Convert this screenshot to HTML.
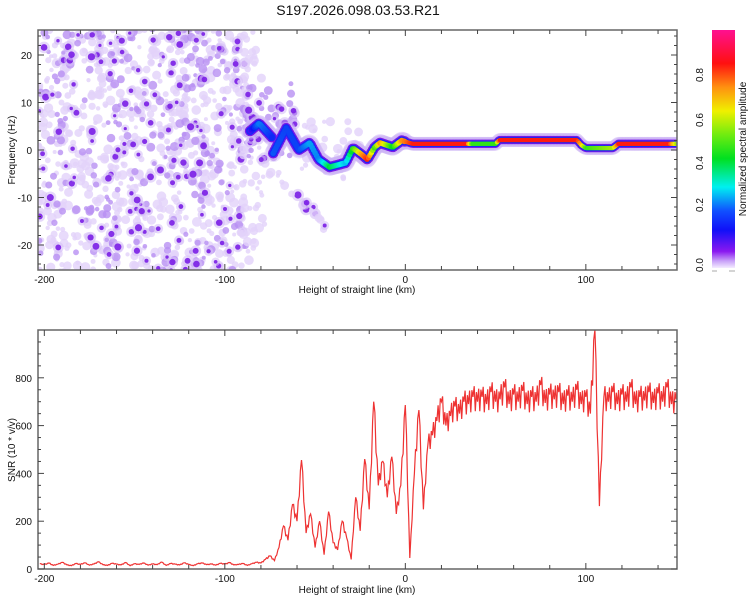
<!DOCTYPE html>
<html><head><meta charset="utf-8">
<style>
body{margin:0;background:#fff;width:750px;height:600px;overflow:hidden;font-family:"Liberation Sans",sans-serif}
svg text{font-family:"Liberation Sans",sans-serif;fill:#111}
</style></head><body>
<svg id="fig" width="750" height="600" viewBox="0 0 750 600">
<defs>
<linearGradient id="cbg" x1="0" y1="1" x2="0" y2="0">
<stop offset="0" stop-color="#f4ecff"/><stop offset="0.03" stop-color="#c8a0f8"/>
<stop offset="0.07" stop-color="#8a18f0"/><stop offset="0.16" stop-color="#1010f8"/>
<stop offset="0.24" stop-color="#1050ff"/><stop offset="0.34" stop-color="#00f0f0"/>
<stop offset="0.46" stop-color="#00e020"/><stop offset="0.56" stop-color="#70ec10"/>
<stop offset="0.66" stop-color="#f0f000"/><stop offset="0.76" stop-color="#ff9010"/>
<stop offset="0.86" stop-color="#ff1010"/><stop offset="1" stop-color="#ff1090"/>
</linearGradient>
<clipPath id="topclip"><rect x="38" y="30" width="639" height="240"/></clipPath>
<clipPath id="botclip"><rect x="38" y="330" width="639" height="239"/></clipPath>
</defs>
<text x="358" y="15" font-size="14" text-anchor="middle">S197.2026.098.03.53.R21</text>
<g id="heat" clip-path="url(#topclip)"></g>
<g id="topaxes"></g>
<g id="snr" clip-path="url(#botclip)"></g>
<g id="botaxes"></g>
<rect x="712" y="30" width="23" height="238" fill="url(#cbg)"/>
<line x1="712" y1="271" x2="717" y2="271" stroke="#aaa"/>
<line x1="729" y1="271" x2="735" y2="271" stroke="#aaa"/>
<g id="cbticks"></g>
<text transform="translate(746,149) rotate(-90)" font-size="10" text-anchor="middle">Normalized spectral amplitude</text>
<text x="357" y="293" font-size="10" text-anchor="middle">Height of straight line (km)</text>
<text x="357" y="593" font-size="10" text-anchor="middle">Height of straight line (km)</text>
<text transform="translate(15,150) rotate(-90)" font-size="10" text-anchor="middle">Frequency (Hz)</text>
<text transform="translate(15,450) rotate(-90)" font-size="10" text-anchor="middle">SNR (10 * v/v)</text>
</svg>
<script>
const NS="http://www.w3.org/2000/svg";
// ---- data ----
const xTicks=[-200,-100,0,100];
const freqTicks=[-20,-10,0,10,20];
const snrTicks=[0,200,400,600,800];
const cbTickLabels=["0.0","0.2","0.4","0.6","0.8"];
const trackH=[-86,-81,-74,-75,-66,-59,-53,-48,-42,-33,-29,-24,-21,-17,-14,-7,-2,4,20,34,37,50,52,75,95,97.5,100,115,118,146,152];
const trackF=[4,5.6,2.7,-2,4.6,0,1.5,-2,-3.6,-2.7,0.4,-1,-2,0.6,1.5,0.6,2,1.3,1.3,1.3,1.3,1.3,2.1,2.1,2.1,1,0.4,0.4,1.3,1.3,1.3];
const trackAmp=[0.12,0.25,0.18,0.22,0.2,0.2,0.28,0.25,0.45,0.3,0.5,0.75,0.85,0.5,0.75,0.45,0.75,0.85,0.85,0.85,0.5,0.5,0.85,0.85,0.85,0.7,0.5,0.6,0.85,0.85,0.5];
const snrStart=-202.5, snrStep=2.5;
const snrValues=[22,18,25,15,20,28,17,14,23,19,26,16,21,30,18,15,24,20,17,27,14,22,19,25,16,21,18,29,15,23,20,17,26,19,14,22,25,18,21,16,24,20,27,17,19,23,15,22,28,25,
40,55,35,90,180,120,270,200,
456,150,230,90,200,60,240,110,
80,200,130,40,300,160,460,250,
700,350,450,300,470,230,350,686,
46,400,665,250,520,560,620,700,
600,640,680,650,700,690,720,700,
720,690,740,700,710,760,690,730,700,745,690,720,700,770,695,730,710,740,690,725,700,750,690,720,
650,1000,263,720,700,740,690,730,700,760,690,720,705,740,695,735,700,760,690,710];
// ---- scales ----
const X0=38,X1=677,D0=-203.5,D1=150.5;
function sx(h){return X0+(h-D0)/(D1-D0)*(X1-X0);}
function fy(f){return 150-f*4.75;}
function sy(v){return 569-v*0.239;}
function mk(p,tag,a){const e=document.createElementNS(NS,tag);for(const k in a)e.setAttribute(k,a[k]);p.appendChild(e);return e;}
function cmap(a){const st=[[0,[244,236,255]],[0.07,[138,24,240]],[0.16,[16,16,248]],[0.34,[0,240,240]],[0.46,[0,224,32]],[0.66,[240,240,0]],[0.76,[255,144,16]],[0.86,[255,16,16]],[1,[255,16,144]]];
for(let i=1;i<st.length;i++){if(a<=st[i][0]){const t=(a-st[i-1][0])/(st[i][0]-st[i-1][0]);const c=st[i-1][1].map((v,j)=>Math.round(v+(st[i][1][j]-v)*t));return "rgb("+c+")";}}return "rgb(255,16,144)";}
// ---- speckle texture (deterministic) ----
const heat=document.getElementById('heat');
let seed=12345;function rnd(){seed=(seed*1103515245+12345)%2147483648;return seed/2147483648;}
function speck(hmin,hmax,fmin,fmax,n,kind){for(let i=0;i<n;i++){const h=hmin+rnd()*(hmax-hmin),f=fmin+rnd()*(fmax-fmin);
let r,fill,op;
if(kind===0){r=2+rnd()*3;fill='#e2d2fa';op=0.8;}
else if(kind===1){r=2+rnd()*2.5;fill='#b890f2';op=0.8;}
else {r=1.6+rnd()*2;fill='#7a1ee6';op=0.9;}
if(kind===2){const hc=mk(heat,'circle',{cx:sx(h),cy:fy(f),r:r+2.5,fill:'#d6c0f6',opacity:0.6});

}
const c=mk(heat,'circle',{cx:sx(h),cy:fy(f),r:r,fill:fill,opacity:op});

}}
speck(-203,-88,-26,26,650,0);
speck(-203,-88,-26,26,220,1);
speck(-203,-88,-26,26,150,2);
speck(-92,-78,-26,26,60,0);
speck(-90,-60,-2,14,40,1);
speck(-90,-60,0,12,20,2);
speck(-60,-25,-6,6,40,0);
for(let i=0;i<25;i++){const t=rnd();speck(-80+t*36-2,-80+t*36+2,-2-t*14-1.5,-2-t*14+1.5,1,i%3===0?2:0);}
// ---- ridge ----
function interp(arr,h){for(let i=1;i<trackH.length;i++){if(h<=trackH[i]){const t=(h-trackH[i-1])/(trackH[i]-trackH[i-1]);return arr[i-1]+(arr[i]-arr[i-1])*t;}}return arr[arr.length-1];}
const layers=[[7,'rgba(205,180,245,0.4)'],[4.2,'#7a18e8'],[3.2,'#1828f8'],[2.2,null]];
for(const [r,col] of layers){for(let h=trackH[0];h<=trackH[trackH.length-1];h+=0.8){const a=interp(trackAmp,h);const f=interp(trackF,h);
const rr=r*(h<0?1.25:1);
const c=mk(heat,'circle',{cx:sx(h),cy:fy(f),r:rr,fill:col||cmap(a)});

}}
// ---- axes ----
function frame(g,yt,yb){mk(g,'rect',{x:X0,y:yt,width:X1-X0,height:yb-yt,fill:'none',stroke:'#666','stroke-width':1.5});
for(let h=-200;h<=150;h+=20){const x=sx(h);const L=(h%100===0)?6:4;
mk(g,'line',{x1:x,y1:yb,x2:x,y2:yb-L,stroke:'#444'});mk(g,'line',{x1:x,y1:yt,x2:x,y2:yt+L,stroke:'#444'});}
for(const h of xTicks){const t=mk(g,'text',{x:sx(h),y:yb+13,'font-size':10,'text-anchor':'middle'});t.textContent=h;

}}
const ta=document.getElementById('topaxes');frame(ta,30,270);
for(let f=-24;f<=24;f+=2){const y=fy(f);const L=f%10===0?6:3;mk(ta,'line',{x1:X0,y1:y,x2:X0+L,y2:y,stroke:'#444'});mk(ta,'line',{x1:X1,y1:y,x2:X1-L,y2:y,stroke:'#444'});}
for(const f of freqTicks){const t=mk(ta,'text',{x:32,y:fy(f)+4,'font-size':10,'text-anchor':'end'});t.textContent=f;

}
const ba=document.getElementById('botaxes');frame(ba,330,569);
for(let v=0;v<=950;v+=50){const y=sy(v);const L=v%200===0?6:3;mk(ba,'line',{x1:X0,y1:y,x2:X0+L,y2:y,stroke:'#444'});mk(ba,'line',{x1:X1,y1:y,x2:X1-L,y2:y,stroke:'#444'});}
for(const v of snrTicks){const t=mk(ba,'text',{x:32,y:sy(v)+4,'font-size':10,'text-anchor':'end'});t.textContent=v;

}
// ---- SNR line (each sample drawn as a small jitter glyph to mimic dense trace) ----
const subs=[[0,1],[0.25,1.07],[0.5,0.93],[0.75,1.05]];
const ptsArr=[];
snrValues.forEach((v,i)=>{const nxt=i+1<snrValues.length?snrValues[i+1]:v;subs.forEach(([t,m])=>{const base=v+(nxt-v)*t;const val=t===0?v:base*m;
ptsArr.push(sx(snrStart+(i+t)*snrStep).toFixed(1)+','+sy(val).toFixed(1));});});
const pl=mk(document.getElementById('snr'),'polyline',{points:ptsArr.join(' '),fill:'none',stroke:'#ee3333','stroke-width':1.2});


// ---- colorbar ticks ----
const cb=document.getElementById('cbticks');const cbY=[265,205,163,120,75];
cbTickLabels.forEach((s,i)=>{const t=mk(cb,'text',{transform:'translate(703,'+cbY[i]+') rotate(-90)','font-size':10,'text-anchor':'middle'});t.textContent=s;

});
</script>
</body></html>
